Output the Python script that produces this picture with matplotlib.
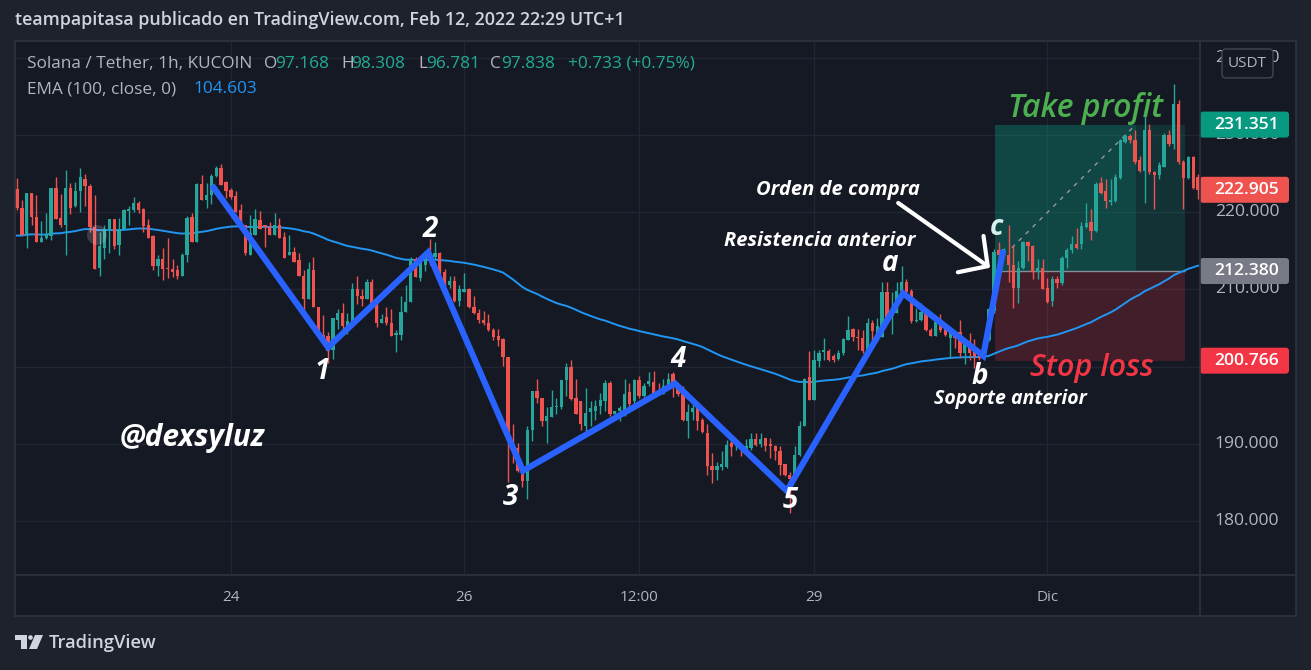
import matplotlib
matplotlib.use("Agg")
import matplotlib.pyplot as plt
from matplotlib.patches import Rectangle, FancyBboxPatch, Circle, Polygon
import numpy as np

# ---------------- data ----------------
OPEN = [
    223.0, 220.6, 217.1, 222.5, 219.4, 216.1, 216.6, 216.9, 223.1, 219.2,
    218.3, 223.1, 220.8, 222.7, 224.3, 223.4, 218.1, 212.8, 215.4, 217.8,
    219.1, 215.7, 217.8, 220.2, 220.3, 221.2, 220.4, 218.3, 216.9, 213.0,
    214.0, 212.7, 212.7, 212.5, 211.8, 214.4, 219.35, 216.1, 223.6, 221.6,
    222.2, 224.7, 225.7, 223.9, 222.9, 222.1, 220.3, 218.3, 214.4, 217.1,
    219.0, 218.3, 218.05, 217.0, 218.4, 216.75, 214.4, 214.8, 213.8, 211.8,
    208.8, 212.5, 207.7, 204.1, 203.9, 202.2, 206.1, 206.9, 205.2, 205.2,
    210.1, 209.2, 208.8, 211.0, 208.05, 205.6, 206.4, 205.7, 204.15, 204.15,
    207.1, 208.4, 214.0, 211.5, 213.2, 214.7, 214.2, 214.7, 212.3, 210.6,
    211.1, 208.5, 209.65, 210.1, 207.7, 207.0, 206.0, 205.6, 204.7, 204.0,
    203.6, 201.3, 190.5, 189.4, 186.5, 185.2, 191.8, 196.9, 195.9, 192.9,
    193.5, 194.8, 194.8, 198.2, 199.95, 195.9, 195.5, 192.25, 194.1, 194.3,
    194.85, 195.5, 197.9, 193.8, 194.2, 194.2, 196.7, 195.5, 198.3, 196.2,
    197.7, 198.0, 196.8, 196.5, 197.45, 199.1, 197.1, 196.4, 192.9, 194.1,
    194.8, 193.1, 191.4, 187.15, 186.6, 187.0, 187.0, 190.1, 189.7, 189.9,
    189.1, 189.4, 190.6, 190.0, 190.7, 190.0, 189.7, 189.1, 187.4, 186.0,
    185.5, 188.6, 192.3, 198.65, 195.7, 200.7, 201.9, 202.0, 201.4, 201.0,
    201.7, 203.5, 204.9, 203.85, 203.7, 202.1, 205.6, 203.4, 203.85, 209.65,
    206.5, 206.9, 209.8, 210.95, 209.8, 205.9, 206.0, 206.9, 204.7, 204.0,
    205.8, 204.9, 203.7, 204.4, 204.5, 201.7, 203.3, 202.3, 201.9, 201.4,
    203.5, 207.2, 215.1, 214.5, 214.5, 213.2, 210.2, 212.8, 216.2, 215.6,
    212.25, 212.8, 210.2, 208.5, 211.4, 210.8, 214.1, 215.1, 215.9, 215.9,
    218.1, 218.7, 217.6, 223.8, 222.8, 221.35, 221.5, 224.4, 229.1, 229.9,
    229.3, 226.7, 225.35, 230.6, 225.2, 224.8, 225.9, 230.0, 228.8, 234.0,
    226.45, 224.4, 227.2, 224.6,
]
HIGH = [
    224.4, 221.6, 222.5, 222.5, 222.2, 218.8, 219.9, 223.1, 224.5, 222.3,
    225.5, 223.8, 223.9, 225.7, 224.9, 223.6, 222.2, 217.5, 218.3, 219.1,
    219.1, 219.2, 220.4, 220.8, 222.0, 221.4, 220.6, 219.1, 217.0, 214.5,
    215.3, 216.7, 213.9, 213.2, 214.7, 219.5, 219.9, 223.8, 224.8, 223.8,
    224.9, 226.0, 226.2, 224.0, 223.1, 222.7, 221.0, 218.3, 219.7, 220.4,
    220.1, 218.3, 218.7, 219.9, 219.3, 217.4, 217.0, 215.5, 214.7, 212.5,
    213.6, 214.2, 207.7, 206.7, 204.5, 206.3, 207.5, 208.2, 206.9, 210.8,
    211.8, 210.0, 211.4, 211.4, 208.6, 206.8, 207.7, 207.4, 204.7, 209.2,
    210.6, 214.2, 214.2, 214.1, 215.0, 216.5, 216.1, 214.8, 212.6, 211.7,
    211.7, 210.6, 212.1, 210.2, 209.1, 207.4, 207.2, 206.75, 205.0, 204.9,
    203.7, 201.3, 192.5, 190.1, 186.5, 192.25, 196.9, 198.4, 195.9, 194.8,
    197.0, 195.9, 198.2, 200.5, 200.9, 198.4, 195.5, 197.2, 195.5, 195.7,
    196.6, 198.3, 198.1, 194.3, 194.85, 198.4, 197.9, 198.4, 198.75, 197.9,
    199.25, 199.4, 197.9, 198.4, 199.2, 199.25, 197.5, 197.45, 195.1, 195.1,
    195.1, 193.3, 192.5, 188.8, 187.7, 189.0, 190.5, 190.5, 190.3, 190.1,
    190.6, 191.4, 191.4, 191.4, 190.7, 190.7, 189.9, 189.7, 187.4, 186.4,
    189.7, 192.9, 198.5, 202.0, 202.2, 202.2, 203.7, 202.3, 201.6, 202.2,
    203.7, 206.6, 205.0, 204.9, 204.8, 206.3, 206.0, 206.3, 210.9, 210.9,
    209.6, 210.9, 213.0, 211.4, 210.0, 207.6, 208.3, 207.2, 205.0, 206.1,
    206.75, 205.45, 204.6, 204.6, 206.1, 203.5, 204.4, 203.6, 202.0, 203.6,
    207.6, 215.2, 216.2, 215.4, 218.4, 215.8, 213.7, 216.3, 216.3, 215.8,
    213.9, 213.9, 211.5, 211.7, 211.7, 214.3, 215.4, 216.9, 218.0, 218.7,
    221.2, 220.4, 223.85, 224.5, 224.3, 224.3, 224.9, 229.5, 230.1, 230.1,
    230.6, 227.3, 232.9, 231.4, 225.35, 226.45, 230.3, 230.6, 236.6, 234.6,
    226.7, 227.3, 227.3, 225.0,
]
LOW = [
    220.3, 217.0, 215.3, 218.3, 216.1, 216.1, 216.5, 216.4, 219.1, 218.1,
    214.5, 219.8, 220.7, 220.0, 220.8, 217.5, 212.7, 211.7, 214.0, 214.7,
    215.2, 214.5, 217.8, 218.3, 220.0, 219.9, 217.5, 216.6, 212.5, 211.7,
    211.2, 211.5, 211.6, 211.3, 211.8, 213.6, 216.1, 216.1, 221.6, 220.6,
    221.0, 224.5, 223.5, 221.8, 221.7, 220.0, 218.2, 214.4, 214.4, 217.1,
    217.8, 215.5, 217.0, 217.0, 216.6, 214.1, 214.4, 213.6, 211.7, 207.3,
    208.8, 207.7, 204.1, 203.1, 200.5, 201.0, 204.9, 204.2, 204.2, 205.2,
    208.05, 207.9, 208.8, 207.8, 205.1, 205.6, 205.45, 203.9, 201.95, 203.4,
    207.1, 208.4, 211.6, 211.1, 212.4, 213.2, 213.9, 211.95, 210.2, 210.2,
    208.35, 207.8, 209.6, 207.6, 206.75, 205.6, 205.45, 204.6, 203.5, 202.7,
    200.1, 185.1, 187.5, 186.3, 184.4, 182.8, 190.3, 195.3, 192.25, 190.1,
    193.5, 193.8, 194.5, 196.15, 195.7, 193.8, 191.8, 191.4, 192.25, 193.1,
    193.8, 194.2, 193.6, 193.1, 192.9, 193.55, 194.85, 195.1, 195.9, 196.0,
    197.45, 196.4, 196.4, 196.4, 197.2, 196.1, 196.15, 192.9, 190.7, 193.1,
    191.8, 191.4, 186.0, 184.9, 185.3, 186.6, 186.8, 188.4, 189.2, 188.4,
    188.8, 189.2, 189.7, 189.6, 189.0, 188.1, 187.9, 186.0, 185.8, 181.0,
    185.3, 188.4, 192.3, 195.7, 195.7, 200.0, 200.9, 200.7, 200.6, 200.8,
    201.55, 203.5, 203.3, 202.2, 201.8, 202.0, 203.3, 203.3, 203.85, 206.1,
    204.2, 206.9, 209.1, 209.35, 205.7, 205.8, 205.9, 204.6, 203.9, 203.9,
    204.5, 204.0, 201.1, 202.4, 201.3, 200.3, 200.9, 199.8, 200.9, 201.1,
    203.3, 207.0, 212.8, 214.3, 210.9, 207.6, 208.3, 212.6, 213.7, 211.3,
    211.3, 210.0, 208.2, 207.9, 210.2, 210.6, 212.8, 214.75, 215.2, 215.2,
    218.0, 216.4, 217.4, 222.3, 220.6, 220.9, 221.3, 224.3, 229.0, 229.0,
    226.2, 225.15, 221.25, 224.9, 220.4, 224.3, 225.8, 228.6, 228.2, 226.2,
    220.4, 224.3, 223.0, 221.7,
]
CLOSE = [
    220.6, 217.1, 222.5, 219.4, 216.1, 216.6, 217.1, 223.1, 219.1, 218.3,
    223.1, 220.6, 222.7, 224.5, 223.4, 218.1, 212.7, 215.6, 217.8, 219.1,
    215.6, 217.8, 220.3, 220.4, 221.2, 220.3, 218.2, 216.7, 213.0, 214.0,
    212.6, 212.6, 212.3, 211.8, 214.4, 219.2, 216.1, 223.6, 221.6, 222.2,
    224.7, 225.7, 223.5, 222.7, 222.0, 220.0, 218.2, 214.7, 217.3, 219.1,
    217.8, 218.1, 217.0, 218.4, 216.6, 214.1, 214.8, 213.6, 211.7, 208.8,
    212.6, 207.7, 204.1, 203.6, 202.0, 206.3, 206.9, 205.2, 205.9, 210.1,
    209.2, 208.8, 211.0, 208.05, 205.6, 206.2, 205.7, 203.9, 204.4, 207.1,
    208.4, 214.0, 211.6, 213.5, 214.7, 214.2, 214.7, 212.2, 210.6, 211.1,
    208.5, 210.0, 210.1, 207.7, 207.0, 206.0, 205.6, 204.7, 203.85, 203.4,
    201.3, 190.5, 189.2, 186.5, 185.2, 191.8, 196.9, 195.9, 192.9, 193.6,
    194.8, 194.9, 198.2, 199.95, 195.8, 193.9, 192.5, 194.0, 194.6, 194.9,
    195.7, 197.9, 193.8, 194.3, 194.6, 196.5, 195.1, 198.2, 196.2, 197.5,
    198.1, 196.5, 196.4, 197.45, 198.4, 197.45, 196.5, 193.1, 194.1, 194.6,
    192.9, 191.5, 187.15, 186.6, 187.15, 187.4, 189.9, 189.6, 189.9, 189.2,
    189.7, 190.6, 189.9, 190.6, 189.7, 189.7, 189.0, 187.3, 186.0, 185.4,
    188.6, 192.3, 198.4, 195.7, 200.9, 201.8, 202.1, 200.8, 200.8, 201.7,
    203.6, 204.7, 203.85, 203.7, 202.0, 205.6, 204.6, 205.3, 209.65, 206.3,
    207.05, 209.8, 210.9, 209.6, 205.9, 206.1, 207.05, 204.7, 204.0, 205.8,
    204.7, 204.15, 204.5, 203.7, 201.7, 203.3, 201.8, 201.4, 201.1, 203.5,
    207.4, 214.85, 214.5, 215.2, 213.2, 210.2, 212.8, 216.2, 215.6, 212.25,
    212.8, 210.1, 208.35, 211.4, 210.8, 214.1, 215.1, 215.9, 215.4, 218.2,
    218.6, 217.6, 223.6, 222.55, 221.5, 221.6, 224.5, 229.3, 229.9, 229.3,
    226.45, 225.35, 230.6, 225.15, 224.8, 226.1, 230.0, 228.8, 234.0, 226.45,
    224.4, 227.2, 223.1, 222.9,
]

EMA_LENGTH = 100
EMA_START = 216.9          # EMA value read at the left edge of the chart

TIME_TICKS = [44, 92, 128, 164, 212]
TIME_LABELS = ["24", "26", "12:00", "29", "Dic"]
PRICE_TICKS = [180, 190, 200, 210, 220, 230, 240]
PRICE_LABELS = [180, 190, 210, 220, 230, 240]   # 200.000 is hidden behind the stop label

WAVE_X = [40.1, 64.0, 84.6, 104.1, 135.4, 158.4, 182.3, 198.8, 202.9]
WAVE_Y = [223.5, 202.5, 214.8, 186.5, 197.8, 183.9, 209.5, 201.4, 215.1]
WAVE_LABELS = ["1", "2", "3", "4", "5", "a", "b", "c"]
WAVE_LABEL_X = [62.8, 85.0, 101.6, 136.0, 159.1, 179.6, 198.1, 201.6]
WAVE_LABEL_Y = [199.3, 217.7, 183.0, 200.9, 182.7, 213.4, 198.7, 218.0]

ENTRY_PRICE = 212.380
TARGET_PRICE = 231.351
STOP_PRICE = 200.766
LAST_PRICE = 222.905
POS_START, POS_END, POS_HIT = 201.2, 240.3, 230.2

# ---------------- style ----------------
OUTER_BG = "#1e222d"
CHART_BG = "#151924"
GRID = "#222632"
BORDER = "#2f333e"
UP = "#26a69a"
DOWN = "#ef5350"
TXT = "#b2b5be"
ANN = dict(family="Open Sans", weight="bold", style="italic")

W, H = 1311, 670
fig = plt.figure(figsize=(W / 100, H / 100), dpi=100, facecolor=OUTER_BG)


def fx(px):
    return px / W


def fy(py):
    return 1 - py / H


XLIM = (-0.41, 243.4)
YLIM = (173.0, 242.18)

# main chart
ax = fig.add_axes([fx(15), fy(575), 1185 / W, 534 / H], facecolor=CHART_BG)
ax.set_xlim(*XLIM)
ax.set_ylim(*YLIM)
ax.set_xticks([])
ax.set_yticks([])
for s in ax.spines.values():
    s.set_visible(False)

ax.hlines(PRICE_TICKS, XLIM[0], XLIM[1], color=GRID, lw=1, zorder=0)
ax.vlines(TIME_TICKS, YLIM[0], YLIM[1], color=GRID, lw=1, zorder=0)

# position tool (long)
ax.add_patch(Rectangle((POS_START, ENTRY_PRICE), POS_END - POS_START, TARGET_PRICE - ENTRY_PRICE,
                       facecolor=(8 / 255, 153 / 255, 129 / 255, 0.2), lw=0, zorder=1))
ax.add_patch(Rectangle((POS_START, ENTRY_PRICE), POS_HIT - POS_START, TARGET_PRICE - ENTRY_PRICE,
                       facecolor=(8 / 255, 153 / 255, 129 / 255, 0.2), lw=0, zorder=1))
ax.add_patch(Rectangle((POS_START, STOP_PRICE), POS_END - POS_START, ENTRY_PRICE - STOP_PRICE,
                       facecolor=(242 / 255, 54 / 255, 69 / 255, 0.2), lw=0, zorder=1))
ax.hlines(ENTRY_PRICE, POS_START, POS_END, color="#8a8d96", lw=1, zorder=1.5)
ax.plot([204.7, POS_HIT], [215.4, TARGET_PRICE], color="#9598a1", lw=1, ls=(0, (3, 4)), zorder=1.5)

# EMA
ema = []
prev = EMA_START
alpha = 2 / (EMA_LENGTH + 1)
for c in CLOSE:
    prev = prev + alpha * (c - prev)
    ema.append(prev)
x = np.arange(len(CLOSE))
ax.plot(x, ema, color="#2196f3", lw=1.4, zorder=2)

# candles
o = np.array(OPEN)
c = np.array(CLOSE)
colors = np.where(c >= o, UP, DOWN)
ax.vlines(x, LOW, HIGH, colors=colors, lw=1, zorder=3)
ax.bar(x, np.maximum(np.abs(c - o), 0.12), bottom=np.minimum(o, c), width=0.68,
       color=colors, lw=0, zorder=3)

# zigzag
ax.plot(WAVE_X, WAVE_Y, color="#2962ff", lw=4.4, solid_joinstyle="miter",
        solid_capstyle="butt", zorder=4)
for s, lx, ly in zip(WAVE_LABELS, WAVE_LABEL_X, WAVE_LABEL_Y):
    ax.text(lx, ly, s, color="#d8efee" if s == "c" else "white", fontsize=20,
            ha="center", va="center", zorder=6, **ANN)

ax.text(168.9, 222.9, "Orden de compra", color="white", fontsize=14.5, ha="center", va="center", zorder=6, **ANN)
ax.text(165.2, 216.3, "Resistencia anterior", color="white", fontsize=14.5, ha="center", va="center", zorder=6, **ANN)
ax.text(204.3, 195.75, "Soporte anterior", color="white", fontsize=14, ha="center", va="center", zorder=6, **ANN)
ax.text(36.0, 190.75, "@dexsyluz", color="white", fontsize=21.5, ha="center", va="center", zorder=6, **ANN)
ax.text(219.8, 233.4, "Take profit", color="#4caf50", fontsize=23, ha="center", va="center", zorder=6,
        family="Open Sans", style="italic", weight="semibold")
ax.text(221.2, 199.8, "Stop loss", color="#f23645", fontsize=22, ha="center", va="center", zorder=6,
        family="Open Sans", style="italic", weight="semibold")
ax.annotate("", xy=(200.2, 212.8), xytext=(181.3, 221.2),
            arrowprops=dict(arrowstyle="->,head_length=1.5,head_width=1.6", color="white",
                            lw=3, mutation_scale=10, shrinkA=0, shrinkB=0), zorder=6)

# price scale
pax = fig.add_axes([fx(1200), fy(575), 96 / W, 534 / H], facecolor=CHART_BG)
pax.set_xlim(0, 96)
pax.set_ylim(*YLIM)
pax.axis("off")
pax.add_patch(Rectangle((0, YLIM[0]), 96, YLIM[1] - YLIM[0], color=CHART_BG, zorder=0))
for p in PRICE_LABELS:
    pax.text(47, p, f"{p:.3f}", color=TXT, fontsize=12.6, family="Open Sans",
             ha="center", va="center", zorder=1)
half = 13 / 7.72
for val, col in [(TARGET_PRICE, "#089981"), (LAST_PRICE, "#ef5350"),
                 (ENTRY_PRICE, "#787b86"), (STOP_PRICE, "#f23645")]:
    pax.add_patch(FancyBboxPatch((0, val - half), 89, 2 * half,
                                 boxstyle="round,pad=0,rounding_size=3", mutation_aspect=1 / 7.72,
                                 fc=col, ec="none", zorder=2))
    pax.text(47, val, f"{val:.3f}", color="white", fontsize=12.6, family="Open Sans",
             weight="semibold", ha="center", va="center", zorder=3)
pax.add_patch(FancyBboxPatch((22, 237.4), 51, 3.75, boxstyle="round,pad=0,rounding_size=4",
                             mutation_aspect=1 / 7.72, fc=CHART_BG, ec="#434651", lw=1, zorder=4))
pax.text(47.5, 239.3, "USDT", color=TXT, fontsize=11, family="Open Sans", ha="center",
         va="center", zorder=5)

# time scale
tax = fig.add_axes([fx(15), fy(616), 1185 / W, 41 / H], facecolor=CHART_BG)
tax.set_xlim(*XLIM)
tax.set_ylim(0, 1)
tax.axis("off")
tax.add_patch(Rectangle((XLIM[0], 0), XLIM[1] - XLIM[0], 1, color=CHART_BG, zorder=0))
for t, lab in zip(TIME_TICKS, TIME_LABELS):
    tax.text(t, 0.46, lab, color=TXT, fontsize=11, family="Open Sans", ha="center", va="center")
fig.patches.append(Rectangle((fx(1200), fy(616)), 96 / W, 41 / H, transform=fig.transFigure,
                             fc=CHART_BG, ec="none", zorder=0))

# overlay: frame, logo, cursor
ov = fig.add_axes([0, 0, 1, 1], zorder=20)
ov.set_xlim(0, W)
ov.set_ylim(H, 0)
ov.axis("off")
ov.patch.set_alpha(0)
for (xa, ya, xb, yb) in [(15, 41, 1296, 41), (15, 616, 1296, 616), (15, 41, 15, 616),
                         (1296, 41, 1296, 616), (1200, 41, 1200, 616), (15, 575, 1296, 575)]:
    ov.plot([xa, xb], [ya, yb], color=BORDER, lw=1.2)
ov.add_patch(Circle((97, 235), 10, color="white", alpha=0.16, lw=0))

# TradingView logo
LOGO = "#d1d4dc"
ov.add_patch(Polygon([(15, 635), (27, 635), (27, 649), (21, 649), (21, 640), (15, 640)],
                     closed=True, fc=LOGO, ec="none"))
ov.add_patch(Circle((30.5, 637.5), 2.3, fc=LOGO, ec="none"))
ov.add_patch(Polygon([(35, 635), (43, 635), (37, 649), (29, 649)], closed=True, fc=LOGO, ec="none"))
ov.text(49, 642.5, "TradingView", color=LOGO, fontsize=13.2, family="Open Sans",
        weight="semibold", ha="left", va="center")

# header and legend
fig.text(fx(15), fy(20), "teampapitasa publicado en TradingView.com, Feb 12, 2022 22:29 UTC+1",
         color="#d1d4dc", fontsize=12.9, family="Open Sans", weight="semibold", ha="left", va="center")
LEG_GREEN = "#22ab94"
LEG_SIZE = 12.4
legend_parts = [
    (27, "Solana / Tether, 1h, KUCOIN", TXT), (264, "O", TXT), (275.5, "97.168", LEG_GREEN),
    (341, "H", TXT), (351, "98.308", LEG_GREEN), (418, "L", TXT), (426, "96.781", LEG_GREEN),
    (490, "C", TXT), (501, "97.838", LEG_GREEN), (568, "+0.733 (+0.75%)", LEG_GREEN),
]
for px, s, col in legend_parts:
    fig.text(fx(px), fy(64), s, color=col, fontsize=LEG_SIZE, family="Open Sans", ha="left", va="center")
fig.text(fx(27), fy(89), "EMA (100, close, 0)", color=TXT, fontsize=LEG_SIZE, family="Open Sans",
         ha="left", va="center")
fig.text(fx(193), fy(89), "104.603", color="#2196f3", fontsize=LEG_SIZE, family="Open Sans",
         ha="left", va="center")

fig.savefig("out.png", dpi=100, facecolor=OUTER_BG)
